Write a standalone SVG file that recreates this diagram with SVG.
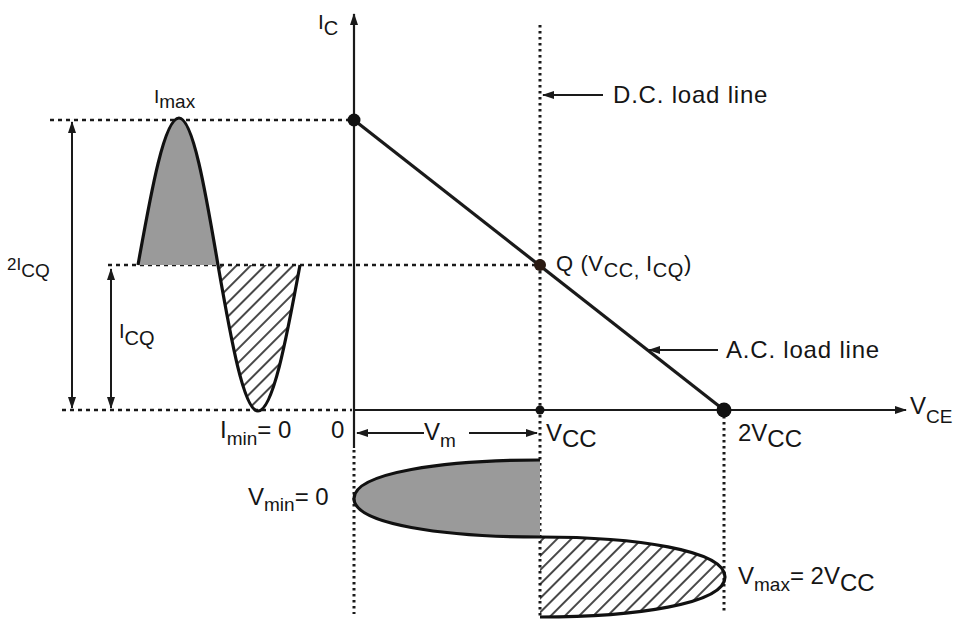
<svg xmlns="http://www.w3.org/2000/svg" width="959" height="619" viewBox="0 0 959 619">
<style>
text{font-family:"Liberation Sans",Arial,sans-serif;fill:#151515}
.lbl{font-size:24px}
.sm{font-size:19px}
.dot{stroke:#1a1a1a;stroke-width:2.5;fill:none}
.dh{stroke-dasharray:4 4}
.dv{stroke-width:3;stroke-dasharray:2.5 3.5}
.solid{stroke:#1a1a1a;fill:none}
.wave{stroke:#111;stroke-width:3.2;fill:none}
.gray{fill:#9a9a9a}
.hatch{fill:url(#hatch)}
</style>
<defs>
<marker id="ah" viewBox="0 0 12 8" refX="11" refY="4" markerWidth="13" markerHeight="8" markerUnits="userSpaceOnUse" orient="auto-start-reverse">
<path d="M0,0 L12,4 L0,8 Z" fill="#1a1a1a"/>
</marker>
<pattern id="hatch" patternUnits="userSpaceOnUse" width="10" height="10" patternTransform="rotate(45)">
<line x1="5" y1="0" x2="5" y2="10" stroke="#1a1a1a" stroke-width="1.6"/>
</pattern>
</defs>
<rect width="959" height="619" fill="#fff"/>

<g id="guides">
<line class="dot dh" x1="50" y1="120" x2="350" y2="120"/>
<line class="dot dh" x1="108" y1="265" x2="536" y2="265"/>
<line class="dot dh" x1="62" y1="410" x2="352" y2="410"/>
<line class="dot dv" x1="354" y1="450" x2="354" y2="614"/>
<line class="dot dv" x1="724" y1="416" x2="724" y2="614"/>
</g>

<g id="dc-load-line">
<line class="dot dv" x1="540" y1="25" x2="540" y2="618"/>
</g>

<g id="axes">
<line class="solid" stroke-width="2.2" x1="354" y1="448" x2="354" y2="14" marker-end="url(#ah)"/>
<line class="solid" stroke-width="2.2" x1="354" y1="410" x2="906" y2="410" marker-end="url(#ah)"/>
</g>

<g id="ac-load-line">
<line class="solid" stroke-width="3.2" x1="354" y1="120" x2="724" y2="410"/>
</g>

<g id="points">
<circle cx="354" cy="120" r="6.5" fill="#111"/>
<circle cx="540" cy="265" r="6" fill="#2a1a12"/>
<circle cx="540" cy="410" r="4.5" fill="#111"/>
<circle cx="724" cy="410" r="7.5" fill="#111"/>
</g>

<g id="current-wave">
<path class="gray" d="M138,265 C151.4,189.7 164.5,118 179,118 C192.8,118 205.3,189.7 218,265 Z"/>
<path class="hatch" d="M218,265 C231,339.8 243.9,411 258,411 C272.8,411 286.3,339.8 300,265 Z"/>
<path class="wave" d="M138,265 C151.4,189.7 164.5,118 179,118 C192.8,118 205.3,189.7 218,265 C231,339.8 243.9,411 258,411 C272.8,411 286.3,339.8 300,265"/>
</g>

<g id="voltage-wave">
<path class="gray" d="M540,460 C444.8,460 354,472.6 354,498.5 C354,524.4 444.8,537 540,537 Z"/>
<path class="hatch" d="M540,537 C634.7,537 725,550 725,577 C725,604 634.7,617 540,617 Z"/>
<path class="wave" d="M540,460 C444.8,460 354,472.6 354,498.5 C354,524.4 444.8,537 540,537 C634.7,537 725,550 725,577 C725,604 634.7,617 540,617"/>
</g>

<g id="connectors">
<line class="solid" stroke-width="2" x1="72" y1="122" x2="72" y2="408" marker-start="url(#ah)" marker-end="url(#ah)"/>
<line class="solid" stroke-width="2" x1="111" y1="269" x2="111" y2="408" marker-start="url(#ah)" marker-end="url(#ah)"/>
<line class="solid" stroke-width="2" x1="424" y1="433" x2="357" y2="433" marker-end="url(#ah)"/>
<line class="solid" stroke-width="2" x1="469" y1="433" x2="537" y2="433" marker-end="url(#ah)"/>
<line class="solid" stroke-width="2" x1="603" y1="95" x2="543" y2="95" marker-end="url(#ah)"/>
<line class="solid" stroke-width="2" x1="718" y1="350" x2="649" y2="350" marker-end="url(#ah)"/>
</g>

<g id="labels">
<text x="318" y="29" font-size="21">I<tspan dy="6" font-size="20">C</tspan></text>
<text class="sm" x="154" y="103">I<tspan dy="5">max</tspan></text>
<text x="7" y="270" font-size="17">2I<tspan dy="7" font-size="19">CQ</tspan></text>
<text x="119" y="338" font-size="20">I<tspan dy="7">CQ</tspan></text>
<text class="lbl" x="220" y="438">I<tspan class="sm" dy="7">min</tspan><tspan dy="-7">= 0</tspan></text>
<text class="lbl" x="331" y="438">0</text>
<text class="lbl" x="424" y="440">V<tspan class="sm" dy="7">m</tspan></text>
<text class="lbl" x="546" y="441">V<tspan dy="6">CC</tspan></text>
<text class="lbl" x="738" y="441">2V<tspan dy="6">CC</tspan></text>
<text class="lbl" x="910" y="414">V<tspan class="sm" dy="9">CE</tspan></text>
<text class="lbl" x="613" y="103" letter-spacing="0.8">D.C. load line</text>
<text class="lbl" x="726" y="358" letter-spacing="0.8">A.C. load line</text>
<text x="556" y="271" font-size="22" letter-spacing="0.6">Q (V<tspan dy="6" font-size="20">CC, </tspan><tspan dy="-6">I</tspan><tspan dy="6" font-size="20">CQ</tspan><tspan dy="-6">)</tspan></text>
<text class="lbl" x="248" y="505">V<tspan class="sm" dy="6">min</tspan><tspan dy="-6">= 0</tspan></text>
<text class="lbl" x="738" y="584">V<tspan class="sm" dy="7">max</tspan><tspan dy="-7">= 2V</tspan><tspan dy="7">CC</tspan></text>
</g>
</svg>
